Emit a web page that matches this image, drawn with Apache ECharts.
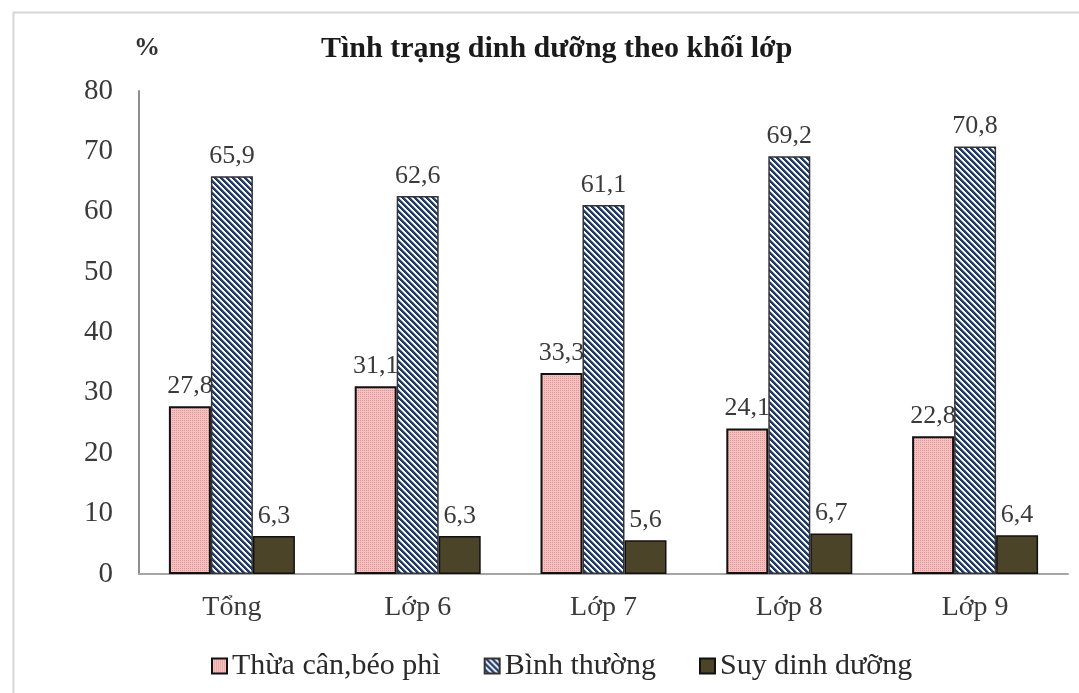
<!DOCTYPE html>
<html>
<head>
<meta charset="utf-8">
<script src="https://cdn.jsdelivr.net/npm/echarts@6/dist/echarts.min.js"></script>
<style>
html,body{margin:0;padding:0;background:#fff;}
#chart{width:1079px;height:693px;}
</style>
</head>
<body>
<div id="chart"></div>
<script>
const categories = ['Tổng', 'Lớp 6', 'Lớp 7', 'Lớp 8', 'Lớp 9'];
const seriesNames = ['Thừa cân,béo phì', 'Bình thường', 'Suy dinh dưỡng'];
const thuaCan = [27.8, 31.1, 33.3, 24.1, 22.8];
const binhThuong = [65.9, 62.6, 61.1, 69.2, 70.8];
const suyDinhDuong = [6.3, 6.3, 5.6, 6.7, 6.4];
const yTicks = [0, 10, 20, 30, 40, 50, 60, 70, 80];

const FONT = "'Liberation Serif', 'Times New Roman', serif";

function pinkPattern() {
  const c = document.createElement('canvas');
  c.width = 4; c.height = 4;
  const g = c.getContext('2d');
  g.fillStyle = '#f5c0c0';
  g.fillRect(0, 0, 4, 4);
  g.fillStyle = '#e49494';
  g.fillRect(0, 0, 1, 1);
  g.fillRect(2, 2, 1, 1);
  g.fillRect(2, 0, 1, 1);
  g.fillRect(0, 2, 1, 1);
  return c;
}
function stripePattern() {
  const n = 6;
  const c = document.createElement('canvas');
  c.width = n; c.height = n;
  const g = c.getContext('2d');
  const img = g.createImageData(n, n);
  for (let y = 0; y < n; y++) {
    for (let x = 0; x < n; x++) {
      const k = (((x - y) % n) + n) % n;
      const i = (y * n + x) * 4;
      if (k < 3) { img.data[i] = 0x20; img.data[i+1] = 0x3b; img.data[i+2] = 0x6a; }
      else if (k === 3) { img.data[i] = 0xa8; img.data[i+1] = 0xb4; img.data[i+2] = 0xcc; }
      else { img.data[i] = 255; img.data[i+1] = 255; img.data[i+2] = 255; }
      img.data[i+3] = 255;
    }
  }
  g.putImageData(img, 0, 0);
  return c;
}

const fmt = p => String(p.value).replace('.', ',');
const labelCfg = {
  show: true, position: 'top', distance: 7, formatter: fmt,
  color: '#3a3a3a', fontFamily: FONT, fontSize: 26
};
const barBase = { type: 'bar', barWidth: 42, barGap: '0%', label: labelCfg };

const chart = echarts.init(document.getElementById('chart'));
chart.setOption({
  animation: false,
  backgroundColor: '#fff',
  title: {
    text: 'Tình trạng dinh dưỡng theo khối lớp',
    left: 316, top: 29,
    textStyle: { fontFamily: FONT, fontSize: 30, fontWeight: 'bold', color: '#1a1a1a' }
  },
  graphic: [{
    type: 'rect', left: 11, top: 10, silent: true,
    shape: { width: 1200, height: 800 },
    style: { fill: 'none', stroke: '#d6d6d6', lineWidth: 2 }
  }],
  legend: {
    left: 206, top: 646,
    icon: 'rect', itemWidth: 15, itemHeight: 15, itemGap: 43,
    textStyle: { fontFamily: FONT, fontSize: 30, color: '#2a2a2a' },
    data: seriesNames
  },
  grid: { left: 139, right: 11, top: 91, bottom: 119 },
  xAxis: {
    type: 'category', data: categories,
    axisLine: { lineStyle: { color: '#a6a6a6', width: 2 } },
    axisTick: { show: false },
    axisLabel: { margin: 20, fontFamily: FONT, fontSize: 28, color: '#3a3a3a' }
  },
  yAxis: {
    type: 'value', min: yTicks[0], max: yTicks[yTicks.length - 1], interval: 10,
    name: '%', nameLocation: 'end', nameGap: 30,
    nameTextStyle: { fontFamily: FONT, fontSize: 26, fontWeight: 'bold', color: '#333', padding: [0, 0, 0, 16] },
    axisLine: { show: true, lineStyle: { color: '#8f8f8f', width: 2 } },
    axisTick: { show: false },
    splitLine: { show: false },
    axisLabel: { margin: 26, fontFamily: FONT, fontSize: 29, color: '#3a3a3a' }
  },
  series: [
    Object.assign({}, barBase, {
      name: seriesNames[0], data: thuaCan,
      itemStyle: { color: { image: pinkPattern(), repeat: 'repeat' }, borderColor: '#111', borderWidth: 2 }
    }),
    Object.assign({}, barBase, {
      name: seriesNames[1], data: binhThuong,
      itemStyle: { color: { image: stripePattern(), repeat: 'repeat' }, borderColor: '#333', borderWidth: 1.5 }
    }),
    Object.assign({}, barBase, {
      name: seriesNames[2], data: suyDinhDuong,
      itemStyle: { color: '#4b4428', borderColor: '#111', borderWidth: 1.5 }
    })
  ]
});
</script>
</body>
</html>
